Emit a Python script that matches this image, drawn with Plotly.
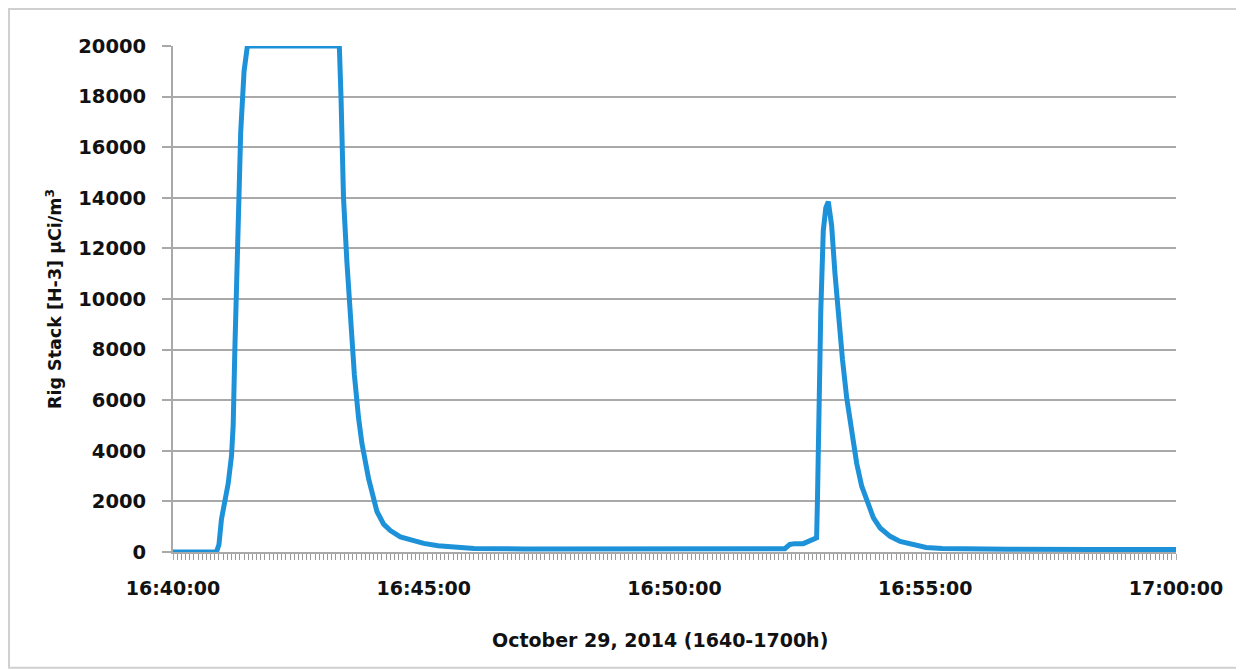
import plotly.graph_objects as go

# Time of day (2014-10-29) and rig stack tritium concentration (µCi/m³)
times = [
    "16:40:00", "16:40:30", "16:40:52", "16:40:55", "16:40:58", "16:41:02", "16:41:06",
    "16:41:10", "16:41:12", "16:41:14", "16:41:17", "16:41:21", "16:41:25", "16:41:29",
    "16:42:00", "16:42:30", "16:43:00", "16:43:19", "16:43:21", "16:43:24", "16:43:28",
    "16:43:31", "16:43:37", "16:43:42", "16:43:46", "16:43:54", "16:44:04", "16:44:12",
    "16:44:20", "16:44:32", "16:44:44", "16:45:00", "16:45:17", "16:45:40", "16:46:00",
    "16:47:00", "16:48:00", "16:49:00", "16:50:00", "16:51:00", "16:52:05", "16:52:12",
    "16:52:18", "16:52:24", "16:52:34", "16:52:40", "16:52:48", "16:52:50", "16:52:51",
    "16:52:53", "16:52:55", "16:52:58", "16:53:01", "16:53:04", "16:53:06", "16:53:08",
    "16:53:12", "16:53:16", "16:53:21", "16:53:26", "16:53:32", "16:53:38", "16:53:44",
    "16:53:50", "16:53:58", "16:54:06", "16:54:18", "16:54:30", "16:54:45", "16:55:01",
    "16:55:20", "16:55:41", "16:56:40", "16:58:20", "17:00:00",
]
values = [
    0, 0, 0, 300, 1300, 2000, 2700,
    3800, 5000, 8000, 12500, 16600, 19000, 20000,
    20000, 20000, 20000, 20000, 18000, 14000, 11500,
    9800, 7000, 5300, 4300, 2900, 1600, 1100,
    850, 600, 480, 340, 250, 180, 140,
    120, 120, 120, 115, 110, 100, 130,
    300, 330, 330, 420, 520, 560, 2000,
    6000, 9500, 12700, 13600, 13850, 13400, 12900,
    11000, 9400, 7600, 6100, 4700, 3500, 2600,
    2000, 1350, 950, 620, 420, 280, 180,
    140, 120, 110, 100, 100,
]

x_ticks = ["16:40:00", "16:45:00", "16:50:00", "16:55:00", "17:00:00"]
y_ticks = [0, 2000, 4000, 6000, 8000, 10000, 12000, 14000, 16000, 18000, 20000]

date = "2014-10-29 "
xs = [date + t for t in times]

FONT = "DejaVu Sans"
GRID = "#a9a9a9"

fig = go.Figure()
fig.add_trace(go.Scatter(
    x=xs, y=values, mode="lines",
    line=dict(color="#1e92d9", width=5),
    hoverinfo="skip", showlegend=False,
))

fig.update_layout(
    width=1244, height=670,
    margin=dict(l=165, r=76, t=38, b=126),
    paper_bgcolor="white", plot_bgcolor="white",
    font=dict(family=FONT, color="#111111"),
    shapes=[dict(type="rect", xref="paper", yref="paper",
                 x0=-0.1635, x1=1.0648, y0=-0.229, y1=1.073,
                 line=dict(color="#d0d0d0", width=2), layer="below")],
    annotations=[dict(text="October 29, 2014 (1640-1700h)",
                      xref="paper", yref="paper", x=0.4855, y=-0.174,
                      xanchor="center", yanchor="middle", showarrow=False,
                      font=dict(family=FONT, size=19, weight="bold", color="#111111"))],
)

fig.update_xaxes(
    type="date",
    range=[date + x_ticks[0], date + x_ticks[-1]],
    tickvals=[date + t for t in x_ticks],
    ticktext=x_ticks,
    tickfont=dict(family=FONT, size=19, weight="bold", color="#111111"),
    ticks="outside", ticklen=6, tickcolor=GRID, tickwidth=1,
    ticklabelstandoff=12,
    minor=dict(ticks="outside", ticklen=6, tickcolor="#9a9a9a", tickwidth=1,
               dtick=5000, showgrid=False),
    showgrid=False, showline=True, linecolor=GRID, linewidth=2,
    zeroline=False,
)

fig.update_yaxes(
    range=[0, 20000],
    tickvals=y_ticks,
    ticktext=[str(v) for v in y_ticks],
    tickfont=dict(family=FONT, size=19.5, weight="bold", color="#111111"),
    ticks="outside", ticklen=9, tickcolor=GRID, tickwidth=2,
    ticklabelstandoff=12,
    showgrid=True, gridcolor=GRID, gridwidth=2,
    showline=True, linecolor=GRID, linewidth=2,
    zeroline=False,
    title=dict(text="Rig Stack [H-3] µCi/m<sup>3</sup>",
               font=dict(family=FONT, size=17.5, weight="bold", color="#111111"),
               standoff=12),
)

fig.write_html("out.html")
